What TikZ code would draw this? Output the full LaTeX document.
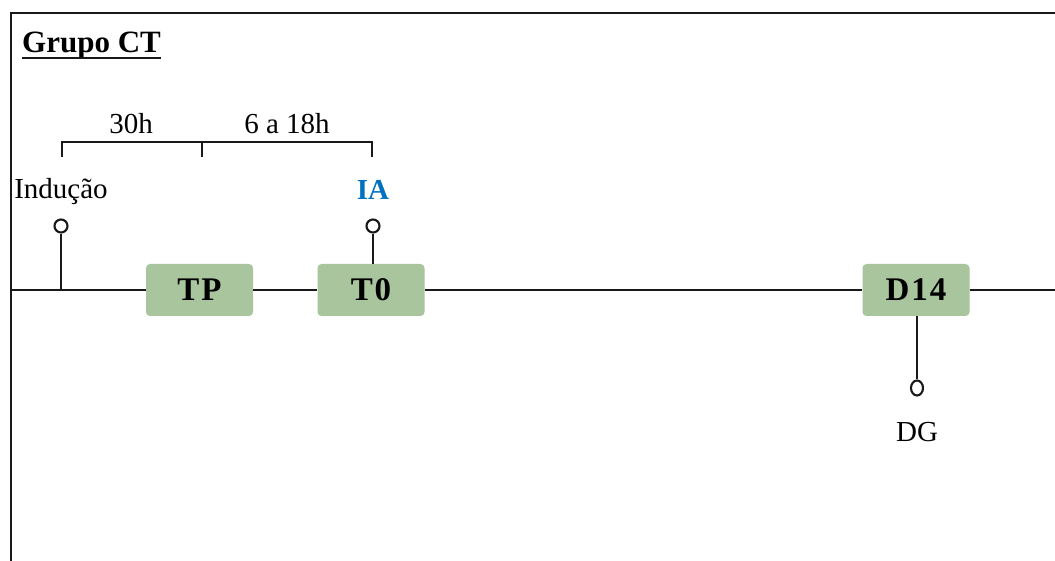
\documentclass[tikz,border=0pt]{standalone}
\usepackage{fontspec}
\usetikzlibrary{shapes.geometric}
\setmainfont{Liberation Serif}
\definecolor{stagegreen}{HTML}{A8C59D}
\definecolor{iablue}{HTML}{0070C0}
\begin{document}
\begin{tikzpicture}[x=1pt,y=-1pt,
  line/.style={line width=2.1pt,black!90},
  stagebox/.style={fill=stagegreen,rounded corners=4pt,minimum width=107pt,minimum height=52pt,inner sep=0pt,
    font=\fontsize{33}{36}\selectfont\bfseries\addfontfeature{LetterSpace=6}},
  pin/.style={circle,draw=black!90,line width=2.1pt,fill=white,minimum size=13pt,inner sep=0pt},
  lbl/.style={font=\fontsize{29}{31}\selectfont,inner sep=0pt}]
\useasboundingbox (0,0) rectangle (1055,561);
% frame
\draw[line width=2.2pt,black!90] (11,561) -- (11,13) -- (1055,13);
% title
\node[anchor=base west,inner sep=0pt,font=\fontsize{31}{33}\selectfont\bfseries] (title) at (22,53) {Grupo CT};
\draw[line width=1.8pt,black!90] ([yshift=-5pt]title.base west) -- ([yshift=-5pt]title.base east);
% stages
\node[stagebox] (TP) at (199.5,290) {TP};
\node[stagebox] (T0) at (371,290) {T0};
\node[stagebox] (D14) at (916,290) {D14};
% timeline
\coordinate (tlstart) at (11,290);
\coordinate (tlend) at (1055,290);
\coordinate (ind) at (61,290);
\draw[line] (tlstart) -- (TP.west) (TP.east) -- (T0.west) (T0.east) -- (D14.west) (D14.east) -- (tlend);
% pins
\node[pin] (indpin) at (61,226) {};
\node[pin] (iapin) at (373,226) {};
\node[pin,ellipse,minimum width=12pt,minimum height=15pt] (dgpin) at (917,388) {};
\draw[line] (ind) -- (indpin.south);
\draw[line] (T0.north -| iapin) -- (iapin.south);
\draw[line] (D14.south -| dgpin) -- (dgpin.north);
% labels
\node[lbl] (indlbl) at (61,192) {Indução};
\node[lbl,font=\fontsize{29}{31}\selectfont\bfseries,text=iablue] (ialbl) at (373,190) {IA};
\node[lbl] (dglbl) at (917,432) {DG};
% interval bracket
\coordinate (b1) at (62,157);
\coordinate (b2) at (202,157);
\coordinate (b3) at (372,157);
\coordinate (b1t) at (62,142);
\coordinate (b3t) at (372,142);
\draw[line] (b1) -- (b1t) -- (b3t) -- (b3);
\draw[line] (b2) -- (b2 |- b1t);
\node[lbl] (h30) at (131,124) {30h};
\node[lbl] (h618) at (287,124) {6 a 18h};
\end{tikzpicture}
\end{document}
